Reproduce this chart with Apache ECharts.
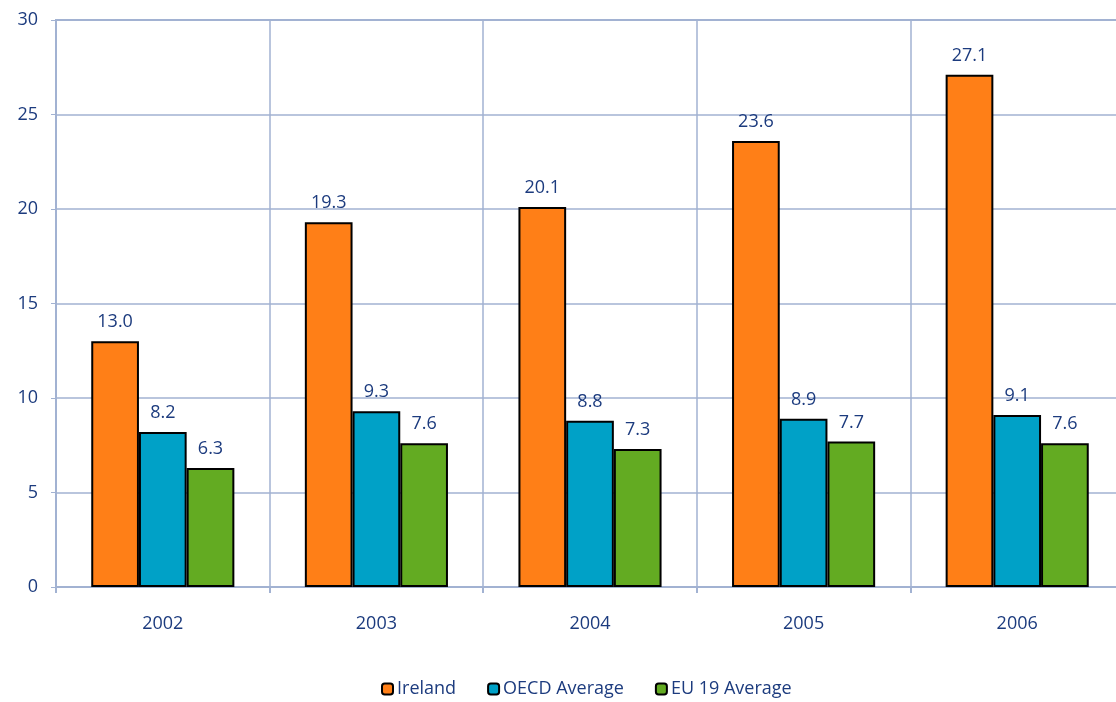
<!DOCTYPE html>
<html><head><meta charset="utf-8">
<script src="https://cdn.jsdelivr.net/npm/echarts@6/dist/echarts.min.js"></script>
<style>html,body{margin:0;padding:0;background:#fff;overflow:hidden;width:1116px;height:702px}#c{width:1124px;height:702px}</style>
</head><body><div id="c"></div>
<script>
const categories = ['2002','2003','2004','2005','2006'];
const ireland = [13.0, 19.3, 20.1, 23.6, 27.1];
const oecd = [8.2, 9.3, 8.8, 8.9, 9.1];
const eu19 = [6.3, 7.6, 7.3, 7.7, 7.6];
const yTicks = [0, 5, 10, 15, 20, 25, 30];

const txt = '#1c3b7e';
const font = 'Open Sans';
const gridColor = '#a2b2d2';
const chart = echarts.init(document.getElementById('c'));
function s(name, data, color) {
  return {
    name, type: 'bar', data,
    barGap: '0%', barCategoryGap: '33%',
    itemStyle: { color, borderColor: '#000', borderWidth: 2 },
    label: { show: true, position: 'top', distance: 10, color: txt, fontFamily: font, fontSize: 18,
      formatter: p => p.value.toFixed(1) }
  };
}
chart.setOption({
  animation: false,
  textStyle: { fontFamily: font },
  grid: { left: 56, top: 20, right: 0, bottom: 115, containLabel: false,
    show: true, borderColor: gridColor, borderWidth: 2 },
  legend: {
    left: 381, top: 680, padding: 0, itemWidth: 11, itemHeight: 11, itemGap: 31,
    textStyle: { color: txt, fontFamily: font, fontSize: 18, padding: [0,0,0,-1] },
    data: ['Ireland','OECD Average','EU 19 Average'],
    itemStyle: { borderColor: '#000', borderWidth: 2 }
  },
  xAxis: {
    type: 'category', data: categories,
    axisLine: { lineStyle: { color: gridColor, width: 2 } },
    axisTick: { show: true, length: 6, lineStyle: { color: gridColor, width: 2 } },
    axisLabel: { color: txt, fontFamily: font, fontSize: 18, margin: 28 },
    splitLine: { show: true, lineStyle: { color: gridColor, width: 1.5 } }
  },
  yAxis: {
    type: 'value', min: 0, max: 30, interval: 5,
    axisLine: { show: true, lineStyle: { color: gridColor, width: 2 } },
    axisTick: { show: true, length: 5, lineStyle: { color: gridColor, width: 1 } },
    axisLabel: { color: txt, fontFamily: font, fontSize: 18, margin: 18,
      formatter: v => yTicks.includes(v) ? String(v) : '' },
    splitLine: { show: true, lineStyle: { color: gridColor, width: 1.5 } }
  },
  series: [
    s('Ireland', ireland, '#ff7f17'),
    s('OECD Average', oecd, '#00a1c7'),
    s('EU 19 Average', eu19, '#63ab22')
  ]
});
</script></body></html>
